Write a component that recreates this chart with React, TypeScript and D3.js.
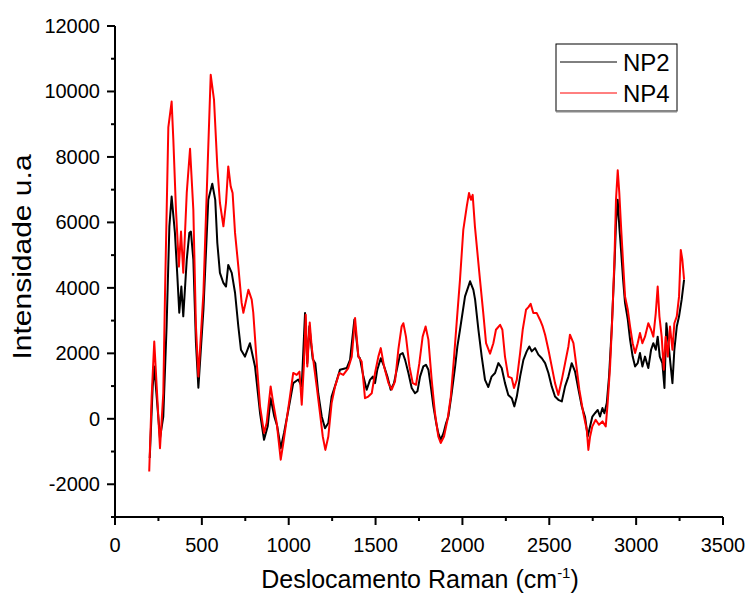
import React from "react";
import * as d3 from "d3";

const shiftNP2 = [200,217,226,246,259,278,297,313,326,345,359,370,382,393,413,428,437,451,466,480,509,537,560,577,589,604,624,639,652,672,691,710,725,748,777,806,835,858,879,896,917,934,954,973,998,1026,1055,1075,1094,1107,1119,1138,1153,1170,1190,1209,1228,1247,1272,1295,1334,1353,1378,1401,1410,1430,1449,1468,1484,1497,1510,1530,1549,1568,1587,1606,1626,1641,1656,1670,1689,1708,1727,1741,1756,1775,1790,1804,1818,1833,1849,1861,1875,1891,1906,1919,1938,1958,1971,1986,2015,2034,2044,2063,2073,2092,2111,2130,2149,2168,2188,2207,2226,2245,2264,2284,2299,2313,2332,2351,2370,2385,2399,2418,2437,2457,2476,2495,2514,2533,2552,2572,2591,2610,2629,2648,2668,2687,2706,2721,2735,2748,2763,2779,2792,2806,2817,2831,2844,2859,2875,2884,2894,2903,2913,2925,2936,2952,2965,2980,2994,3009,3022,3036,3051,3070,3086,3099,3113,3124,3136,3151,3163,3174,3186,3197,3209,3220,3234,3247,3262,3276];
const intensityNP2 = [-1200,990,1600,270,-590,70,2820,5880,6790,5680,4350,3240,4040,3130,4860,5680,5720,4860,2320,950,3330,6690,7180,6690,5370,4460,4150,4040,4700,4460,3850,2820,2110,1900,2310,1600,170,-640,-230,630,70,-230,-900,-430,270,1090,1200,990,3230,1700,2830,1830,1700,780,70,-290,-130,680,1090,1500,1550,1800,3030,1900,1850,1290,890,1190,1290,1090,1500,1850,1600,1290,890,1090,1600,1960,2010,1800,1400,940,780,840,1290,1600,1650,1500,990,380,-130,-440,-640,-440,-130,70,780,1600,2210,2720,3740,4040,4200,3940,3640,2720,1900,1190,970,1290,1400,1700,1550,1090,730,630,380,680,1290,1800,2060,2210,2060,2160,1960,1850,1700,1400,990,680,580,530,990,1290,1700,1450,890,380,50,-540,-230,70,170,270,70,330,170,480,1290,2720,4650,5980,6690,5880,5160,4250,3540,3030,2420,1900,1600,1700,2010,1600,1900,1550,2110,2310,2110,2510,1900,1700,940,2920,2310,1700,1090,2110,2820,3130,3640,4250];

const shiftNP4 = [197,211,226,240,259,278,288,307,326,336,351,368,380,393,413,432,451,466,480,509,528,551,570,589,604,624,639,652,666,677,691,710,729,739,768,787,796,816,835,858,873,896,911,931,954,969,988,1007,1026,1046,1062,1075,1088,1098,1107,1121,1132,1146,1161,1180,1196,1211,1228,1247,1267,1291,1314,1343,1363,1382,1401,1420,1439,1458,1478,1497,1516,1530,1549,1574,1593,1612,1631,1650,1660,1675,1695,1714,1733,1752,1771,1788,1804,1823,1842,1861,1875,1894,1914,1933,1952,1971,1986,2005,2025,2038,2049,2059,2072,2101,2120,2136,2159,2178,2193,2217,2230,2245,2264,2284,2297,2313,2332,2347,2366,2380,2393,2408,2428,2447,2462,2476,2495,2514,2533,2552,2572,2591,2610,2619,2639,2654,2673,2696,2716,2725,2735,2748,2767,2786,2806,2825,2836,2850,2863,2875,2884,2894,2903,2913,2925,2936,2952,2965,2980,2994,3009,3022,3036,3051,3070,3086,3099,3113,3124,3134,3147,3159,3170,3182,3195,3209,3220,3234,3247,3257,3266,3276];
const intensityNP4 = [-1610,680,2360,990,-900,780,3850,8900,9690,8500,6380,4650,5720,4460,6900,8250,6380,2820,1290,3850,6900,10510,9740,7710,6600,5880,6600,7710,7100,6900,5680,4650,3540,3240,3940,3640,3240,1710,380,-430,-130,990,480,-130,-1250,-740,-30,680,1400,1340,1440,430,1700,3180,1600,2940,2210,1600,990,170,-540,-950,-540,480,990,1400,1340,1550,1900,3080,1900,1750,630,680,780,1400,1900,2160,1600,1090,890,1140,2110,2820,2920,2510,1600,1090,1040,1700,2510,2820,2420,1190,170,-540,-740,-540,-30,680,1900,3230,4250,5770,6490,6900,6690,6840,5870,4250,3230,2310,1990,2310,2720,2870,2720,1900,1290,1240,940,1190,2010,2720,3330,3410,3510,3230,3230,3020,2820,2570,2110,1600,1090,730,1190,1700,2210,2570,2310,1700,890,170,-340,-950,-540,-230,-30,-180,-80,-230,480,1600,3130,4860,6690,7590,6900,5880,4760,3740,3330,2820,2310,2010,2310,2620,2310,2510,2920,2720,2510,3230,4040,3130,2510,1500,2510,1900,2820,2110,2920,3130,3740,5160,4860,4250];

const xTicks = [0, 500, 1000, 1500, 2000, 2500, 3000, 3500];
const xMinorTicks = [250, 750, 1250, 1750, 2250, 2750, 3250];
const yTicks = [-2000, 0, 2000, 4000, 6000, 8000, 10000, 12000];
const yMinorTicks = [-3000, -1000, 1000, 3000, 5000, 7000, 9000, 11000];

const seriesNames = ["NP2", "NP4"];
const seriesColors = ["#000000", "#ff0000"];

export default function App() {
  const W = 747, H = 596;
  const x = d3.scaleLinear().domain([0, 3500]).range([115, 723]);
  const y = d3.scaleLinear().domain([-3000, 12000]).range([517, 26]);
  const line = d3.line<[number, number]>().x(d => x(d[0])).y(d => y(d[1]));
  const s2 = shiftNP2.map((v, i) => [v, intensityNP2[i]] as [number, number]);
  const s4 = shiftNP4.map((v, i) => [v, intensityNP4[i]] as [number, number]);
  const font = "'Liberation Sans', Arial, sans-serif";
  const x0 = x(0), yB = y(-3000);
  return (
    <svg width={W} height={H} style={{ position: "absolute", left: 0, top: 0, background: "#fff" }} fontFamily={font}>
      <rect x={0} y={0} width={W} height={H} fill="#fff" />
      <path d={line(s2) || ""} fill="none" stroke={seriesColors[0]} strokeWidth={2} strokeLinejoin="round" />
      <path d={line(s4) || ""} fill="none" stroke={seriesColors[1]} strokeWidth={2} strokeLinejoin="round" />
      {/* axes */}
      <line x1={x0} x2={x0} y1={y(12000)} y2={yB} stroke="#000" strokeWidth={2} />
      <line x1={x0 - 1} x2={x(3500)} y1={yB} y2={yB} stroke="#000" strokeWidth={2} />
      {yTicks.map(t => (
        <g key={"yt" + t}>
          <line x1={x0 - 8} x2={x0} y1={y(t)} y2={y(t)} stroke="#000" strokeWidth={2} />
          <text x={x0 - 15} y={y(t) + 7} fontSize={20} textAnchor="end">{String(t)}</text>
        </g>
      ))}
      {yMinorTicks.map(t => (
        <line key={"ym" + t} x1={x0 - 4} x2={x0} y1={y(t)} y2={y(t)} stroke="#000" strokeWidth={2} />
      ))}
      {xTicks.map(t => (
        <g key={"xt" + t}>
          <line x1={x(t)} x2={x(t)} y1={yB} y2={yB + 8} stroke="#000" strokeWidth={2} />
          <text x={x(t)} y={yB + 35} fontSize={20} textAnchor="middle">{String(t)}</text>
        </g>
      ))}
      {xMinorTicks.map(t => (
        <line key={"xm" + t} x1={x(t)} x2={x(t)} y1={yB} y2={yB + 4} stroke="#000" strokeWidth={2} />
      ))}
      <text x={420} y={588} fontSize={25} textAnchor="middle">
        Deslocamento Raman (cm<tspan dy={-10} fontSize={15}>-1</tspan><tspan dy={10}>)</tspan>
      </text>
      <text transform="translate(31,257) rotate(-90) scale(1.2,1)" fontSize={25} textAnchor="middle">Intensidade u.a</text>
      {/* legend */}
      <rect x={556} y={44} width={121} height={67} fill="#fff" stroke="#000" strokeWidth={1} />
      <line x1={556} x2={677} y1={111.5} y2={111.5} stroke="#888" strokeWidth={2} />
      {seriesNames.map((n, i) => (
        <g key={n}>
          <line x1={560} x2={617} y1={62 + i * 31} y2={62 + i * 31} stroke={seriesColors[i]} strokeWidth={1} />
          <text x={623} y={71 + i * 31} fontSize={24}>{n}</text>
        </g>
      ))}
    </svg>
  );
}
